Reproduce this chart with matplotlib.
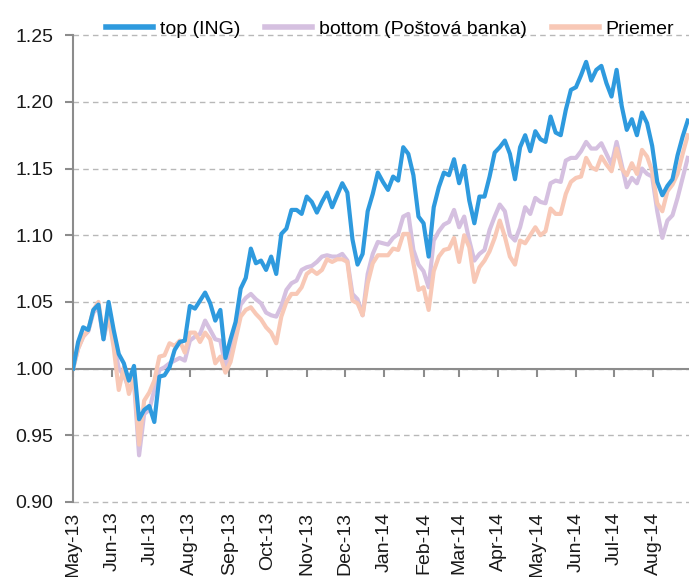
import matplotlib
matplotlib.use("Agg")
import matplotlib.pyplot as plt
import matplotlib.dates as mdates
import pandas as pd

# normalised fund index, one reading every 4 days from 1 May 2013
START = "2013-05-01"
STEP = "4D"

top_ing = [
    1.000, 1.020, 1.031, 1.029, 1.044, 1.048, 1.022, 1.050, 1.029, 1.011,
    1.004, 0.991, 1.002, 0.962, 0.969, 0.972, 0.960, 0.994, 0.995, 1.001,
    1.014, 1.020, 1.021, 1.047, 1.045, 1.051, 1.057, 1.049, 1.036, 1.044,
    1.008, 1.022, 1.035, 1.060, 1.068, 1.090, 1.079, 1.081, 1.074, 1.084,
    1.071, 1.101, 1.105, 1.119, 1.119, 1.116, 1.129, 1.125, 1.117, 1.125,
    1.132, 1.121, 1.130, 1.139, 1.132, 1.097, 1.078, 1.086, 1.118, 1.131,
    1.147, 1.140, 1.134, 1.144, 1.141, 1.166, 1.161, 1.145, 1.114, 1.109,
    1.084, 1.121, 1.136, 1.147, 1.145, 1.157, 1.139, 1.152, 1.126, 1.109,
    1.129, 1.129, 1.144, 1.162, 1.166, 1.171, 1.161, 1.142, 1.166, 1.175,
    1.163, 1.178, 1.172, 1.170, 1.189, 1.177, 1.175, 1.194, 1.209, 1.211,
    1.220, 1.230, 1.216, 1.224, 1.227, 1.214, 1.204, 1.224, 1.197, 1.179,
    1.187, 1.175, 1.192, 1.184, 1.167, 1.140, 1.130, 1.137, 1.142, 1.160,
    1.174, 1.186,
]

bottom_pb = [
    1.000, 1.015, 1.024, 1.028, 1.042, 1.046, 1.022, 1.040, 1.020, 1.000,
    0.995, 0.985, 0.990, 0.935, 0.966, 0.969, 0.984, 0.999, 1.001, 1.004,
    1.006, 1.008, 1.006, 1.021, 1.024, 1.026, 1.036, 1.029, 1.022, 1.021,
    1.002, 1.012, 1.030, 1.048, 1.053, 1.056, 1.052, 1.049, 1.042, 1.040,
    1.039, 1.047, 1.059, 1.064, 1.066, 1.074, 1.076, 1.077, 1.080, 1.084,
    1.085, 1.084, 1.084, 1.086, 1.081, 1.056, 1.052, 1.040, 1.071, 1.086,
    1.095, 1.094, 1.093, 1.098, 1.101, 1.114, 1.116, 1.089, 1.078, 1.073,
    1.061, 1.096, 1.103, 1.108, 1.110, 1.119, 1.106, 1.114, 1.096, 1.081,
    1.086, 1.089, 1.104, 1.114, 1.123, 1.118, 1.100, 1.096, 1.106, 1.121,
    1.116, 1.128, 1.125, 1.124, 1.139, 1.141, 1.140, 1.156, 1.158, 1.158,
    1.163, 1.170, 1.165, 1.165, 1.169, 1.161, 1.153, 1.170, 1.153, 1.136,
    1.143, 1.139, 1.150, 1.146, 1.144, 1.118, 1.098, 1.111, 1.115, 1.128,
    1.143, 1.158,
]

priemer = [
    1.000, 1.015, 1.024, 1.029, 1.044, 1.050, 1.024, 1.039, 1.016, 0.984,
    1.001, 0.981, 0.994, 0.943, 0.976, 0.982, 0.991, 1.009, 1.010, 1.019,
    1.017, 1.021, 1.012, 1.027, 1.027, 1.020, 1.027, 1.022, 1.004, 1.009,
    0.997, 1.005, 1.022, 1.039, 1.044, 1.046, 1.041, 1.037, 1.031, 1.027,
    1.019, 1.039, 1.050, 1.056, 1.056, 1.061, 1.071, 1.074, 1.071, 1.074,
    1.082, 1.080, 1.082, 1.082, 1.080, 1.051, 1.049, 1.040, 1.064, 1.079,
    1.085, 1.085, 1.085, 1.090, 1.089, 1.101, 1.101, 1.079, 1.059, 1.061,
    1.044, 1.073, 1.084, 1.089, 1.090, 1.098, 1.080, 1.100, 1.091, 1.065,
    1.076, 1.081, 1.088, 1.098, 1.111, 1.099, 1.084, 1.078, 1.096, 1.094,
    1.100, 1.106, 1.100, 1.103, 1.120, 1.116, 1.116, 1.131, 1.140, 1.143,
    1.144, 1.158, 1.151, 1.149, 1.159, 1.153, 1.148, 1.165, 1.150, 1.145,
    1.154, 1.146, 1.164, 1.159, 1.148, 1.124, 1.118, 1.133, 1.138, 1.146,
    1.161, 1.175,
]

labels = ["top (ING)", "bottom (Poštová banka)", "Priemer"]
colors = ["#2e9ade", "#d5c0e0", "#f8c8b6"]
y_ticks = [0.90, 0.95, 1.00, 1.05, 1.10, 1.15, 1.20, 1.25]
BASE = 1.00  # the date axis crosses here

dates = pd.date_range(START, periods=len(top_ing), freq=STEP)

plt.rcParams["font.family"] = ["Liberation Sans", "DejaVu Sans"]
grey = "#8c8c8c"
txt = "#1a1a1a"

fig = plt.figure(figsize=(6.89, 5.77), dpi=100)
ax = fig.add_axes([0.106, 0.130, 0.894, 0.809])

l_bot, = ax.plot(dates, bottom_pb, color=colors[1], lw=3, label=labels[1], zorder=3)
l_avg, = ax.plot(dates, priemer, color=colors[2], lw=3, label=labels[2], zorder=4)
l_top, = ax.plot(dates, top_ing, color=colors[0], lw=3, label=labels[0], zorder=5)

ax.set_ylim(0.90, 1.25)
ax.set_xlim(pd.Timestamp("2013-05-01"), pd.Timestamp("2014-08-29"))
ax.set_yticks(y_ticks)
ax.set_yticklabels([f"{v:.2f}" for v in y_ticks])
ax.yaxis.grid(True, linestyle=(0, (4, 3)), color="#b8b8b8", lw=1)
ax.set_axisbelow(True)
for gl in ax.get_ygridlines():
    gl.set_clip_on(False)  # keep the 0.90 and 1.25 lines whole

for s in ["top", "right", "bottom"]:
    ax.spines[s].set_visible(False)
ax.spines["left"].set_color(grey)
ax.spines["left"].set_linewidth(1.5)

# month labels under the plot, no ticks there
ax.xaxis.set_major_locator(mdates.MonthLocator())
ax.xaxis.set_major_formatter(mdates.DateFormatter("%b-%y"))
ax.tick_params(axis="x", length=0, labelrotation=90, labelsize=14,
               labelcolor=txt, pad=7)
ax.tick_params(axis="y", direction="out", length=6, width=1.5, color=grey,
               labelsize=14, labelcolor=txt, pad=8)

# axis line on the 1.00 level, ticks hanging down from it
cross = ax.secondary_xaxis(BASE, transform=ax.transData)
cross.xaxis.set_major_locator(mdates.MonthLocator())
cross.tick_params(axis="x", direction="in", length=6, width=1.5, color=grey,
                  labelbottom=False, labeltop=False)
for s in ["bottom", "top"]:
    cross.spines[s].set_color(grey)
    cross.spines[s].set_linewidth(1.5)
cross.set_zorder(2.5)

leg = ax.legend(handles=[l_top, l_bot, l_avg], loc="lower center",
                bbox_to_anchor=(0.515, 0.995), ncol=3, frameon=False, fontsize=14,
                handlelength=2.4, handletextpad=0.35, columnspacing=1.3,
                borderaxespad=0.0, borderpad=0.0)
for h in leg.get_lines():
    h.set_linewidth(4)

fig.savefig("out.png", dpi=100)
